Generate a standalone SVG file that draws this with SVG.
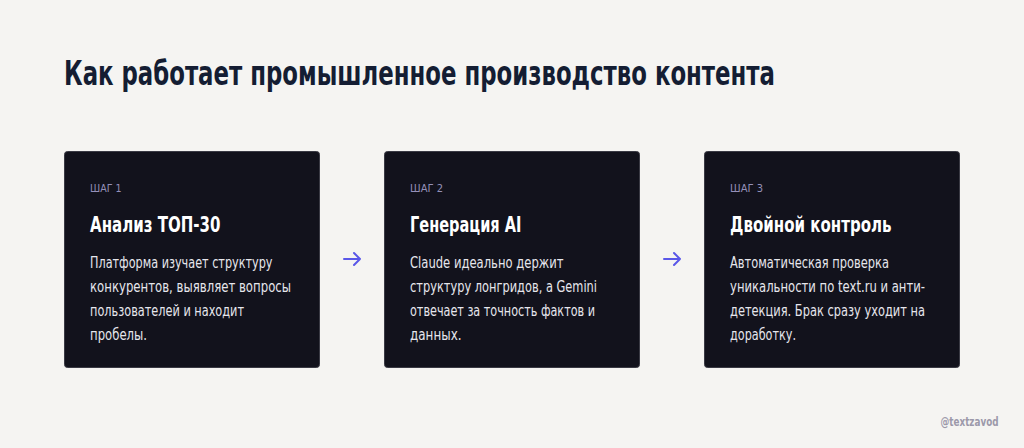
<svg xmlns="http://www.w3.org/2000/svg" width="1024" height="448" viewBox="0 0 1024 448">
<style>
.f{font-family:"DejaVu Sans","Liberation Sans",sans-serif;}
.h{font-size:34px;font-weight:700;fill:#141d33;}
.card{fill:#12121c;stroke:#3a3a44;stroke-width:1;}
.step{font-size:10.5px;fill:#9490b8;}
.title{font-size:21px;font-weight:700;fill:#ffffff;}
.body{font-size:15px;fill:#e6e6ec;}
.arr{stroke:#5a57e8;stroke-width:2;fill:none;stroke-linecap:round;stroke-linejoin:round;}
.tag{font-size:12px;font-weight:700;fill:#9c99aa;}
</style>
<rect width="1024" height="448" fill="#f5f4f2"/>
<text class="f h" x="64" y="85" textLength="711" lengthAdjust="spacingAndGlyphs">Как работает промышленное производство контента</text>
<g id="step1">
<rect class="card" x="64.5" y="151.5" width="255" height="216" rx="3"/>
<text class="f step" x="90" y="192" textLength="31.5" lengthAdjust="spacingAndGlyphs">ШАГ 1</text>
<text class="f title" x="90" y="232" textLength="130.5" lengthAdjust="spacingAndGlyphs">Анализ ТОП-30</text>
<text class="f body" x="90" y="268" textLength="182.5" lengthAdjust="spacingAndGlyphs">Платформа изучает структуру</text>
<text class="f body" x="90" y="292" textLength="201" lengthAdjust="spacingAndGlyphs">конкурентов, выявляет вопросы</text>
<text class="f body" x="90" y="316" textLength="154" lengthAdjust="spacingAndGlyphs">пользователей и находит</text>
<text class="f body" x="90" y="340" textLength="57" lengthAdjust="spacingAndGlyphs">пробелы.</text>
</g>
<g id="step2">
<rect class="card" x="384.5" y="151.5" width="255" height="216" rx="3"/>
<text class="f step" x="410" y="192" textLength="33" lengthAdjust="spacingAndGlyphs">ШАГ 2</text>
<text class="f title" x="410" y="232" textLength="111.5" lengthAdjust="spacingAndGlyphs">Генерация AI</text>
<text class="f body" x="410" y="268" textLength="153.5" lengthAdjust="spacingAndGlyphs">Claude идеально держит</text>
<text class="f body" x="410" y="292" textLength="187" lengthAdjust="spacingAndGlyphs">структуру лонгридов, а Gemini</text>
<text class="f body" x="410" y="316" textLength="185" lengthAdjust="spacingAndGlyphs">отвечает за точность фактов и</text>
<text class="f body" x="410" y="340" textLength="51.5" lengthAdjust="spacingAndGlyphs">данных.</text>
</g>
<g id="step3">
<rect class="card" x="704.5" y="151.5" width="255" height="216" rx="3"/>
<text class="f step" x="730" y="192" textLength="33" lengthAdjust="spacingAndGlyphs">ШАГ 3</text>
<text class="f title" x="730" y="232" textLength="161.5" lengthAdjust="spacingAndGlyphs">Двойной контроль</text>
<text class="f body" x="730" y="268" textLength="159" lengthAdjust="spacingAndGlyphs">Автоматическая проверка</text>
<text class="f body" x="730" y="292" textLength="195" lengthAdjust="spacingAndGlyphs">уникальности по text.ru и анти-</text>
<text class="f body" x="730" y="316" textLength="195" lengthAdjust="spacingAndGlyphs">детекция. Брак сразу уходит на</text>
<text class="f body" x="730" y="340" textLength="66" lengthAdjust="spacingAndGlyphs">доработку.</text>
</g>
<g id="connectors">
<path class="arr" d="M344 259H360M354 253L360 259L354 265"/>
<path class="arr" d="M664 259H680M674 253L680 259L674 265"/>
</g>
<text class="f tag" x="940.5" y="426" textLength="58" lengthAdjust="spacingAndGlyphs">@textzavod</text>
</svg>
